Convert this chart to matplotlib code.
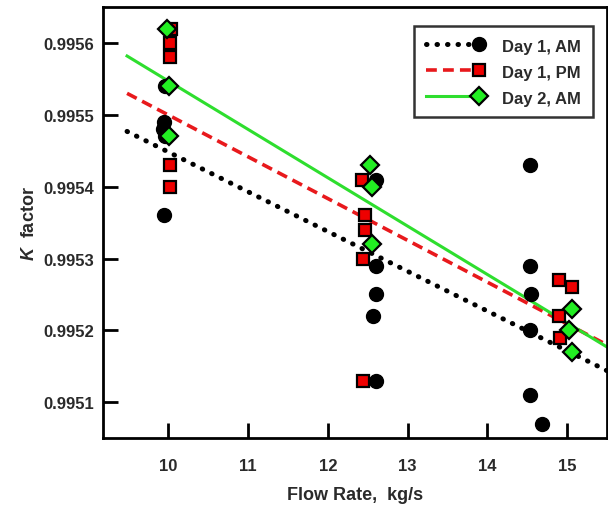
import numpy as np
import matplotlib
matplotlib.use("Agg")
import matplotlib.pyplot as plt
from matplotlib.legend_handler import HandlerLine2DCompound
from matplotlib.lines import Line2D

plt.rcParams['font.family'] = ['Liberation Sans', 'DejaVu Sans']
plt.rcParams['font.weight'] = 'bold'
plt.rcParams['axes.labelweight'] = 'bold'
plt.rcParams['mathtext.fontset'] = 'custom'
plt.rcParams['mathtext.it'] = 'Liberation Sans:italic:bold'
plt.rcParams['mathtext.rm'] = 'Liberation Sans:bold'

# Day 1, AM (black circles)
am1_x = [9.95, 9.94, 9.93, 9.95, 9.94,
         12.61, 12.61, 12.6, 12.57, 12.61,
         14.54, 14.54, 14.55, 14.54, 14.54, 14.69]
am1_y = [0.99554, 0.99549, 0.99548, 0.99547, 0.99536,
         0.99541, 0.99529, 0.99525, 0.99522, 0.99513,
         0.99543, 0.99529, 0.99525, 0.99520, 0.99511, 0.99507]

# Day 1, PM (red squares)
pm1_x = [10.03, 10.02, 10.02, 10.02, 10.02,
         12.43, 12.46, 12.46, 12.44, 12.44,
         14.90, 15.06, 14.90, 14.91]
pm1_y = [0.99562, 0.99560, 0.99558, 0.99543, 0.99540,
         0.99541, 0.99536, 0.99534, 0.99530, 0.99513,
         0.99527, 0.99526, 0.99522, 0.99519]

# Day 2, AM (green diamonds)
am2_x = [9.98, 10.01, 10.01,
         12.53, 12.56, 12.55,
         15.06, 15.03, 15.06]
am2_y = [0.99562, 0.99554, 0.99547,
         0.99543, 0.99540, 0.99532,
         0.99523, 0.99520, 0.99517]

# fitted trend lines (end points)
fit_x = [9.48, 15.5]
fit_am1 = [0.995477, 0.995144]
fit_pm1 = [0.99553, 0.99518]
fit_am2 = [0.995582, 0.995177]

xticks = [10, 11, 12, 13, 14, 15]
yticks = [0.9951, 0.9952, 0.9953, 0.9954, 0.9955, 0.9956]

fig = plt.figure(figsize=(6.08, 5.10), dpi=100)
ax = fig.add_axes([0.169, 0.139, 0.829, 0.845])

txtcol = '#2a2a2a'

dot_ls = (0, (0.1, 2.0))
dash_ls = (0, (3.0, 1.7))

ax.plot(fit_x, fit_am1, color='black', lw=3.6, linestyle=dot_ls,
        dash_capstyle='round', zorder=2)
ax.plot(fit_x, fit_pm1, color='#e8191c', lw=2.6, linestyle=dash_ls, zorder=2)
ax.plot(fit_x, fit_am2, color='#2ede2e', lw=2.2, linestyle='-', zorder=2)

ax.plot(am1_x, am1_y, 'o', color='black', ms=10, zorder=3, linestyle='none')
ax.plot(pm1_x, pm1_y, 's', mfc='#ee0000', mec='black', mew=1.6, ms=9, zorder=4, linestyle='none')
ax.plot(am2_x, am2_y, 'D', mfc='#22ee22', mec='black', mew=1.6, ms=9, zorder=5, linestyle='none')

ax.set_xlim(9.175, 15.5)
ax.set_ylim(0.99505, 0.99565)
ax.set_xticks(xticks)
ax.set_yticks(yticks)
ax.set_xticklabels([str(v) for v in xticks])
ax.set_yticklabels(['%.4f' % v for v in yticks])
ax.tick_params(direction='in', length=11, width=2, labelsize=12, colors='black',
               labelcolor=txtcol, pad=14)
ax.tick_params(axis='y', pad=6)
for s in ax.spines.values():
    s.set_linewidth(2)

ax.set_xlabel('Flow Rate,  kg/s', fontsize=13, color=txtcol, labelpad=10,
              fontweight='bold')
ax.set_ylabel('$K$  factor', fontsize=13, color=txtcol, labelpad=4,
              fontweight='bold')


class EndMarkerHandler(HandlerLine2DCompound):
    def get_xdata(self, legend, xdescent, ydescent, width, height, fontsize):
        xdata = np.array([-xdescent, -xdescent + width])
        xdata_marker = np.array([-xdescent + width])
        return xdata, xdata_marker


h1 = Line2D([], [], color='black', lw=3.6, linestyle=dot_ls,
            dash_capstyle='round', marker='o', ms=10, mfc='black', mec='black')
h2 = Line2D([], [], color='#e8191c', lw=2.6, linestyle=dash_ls,
            marker='s', ms=9, mfc='#ee0000', mec='black', mew=1.6)
h3 = Line2D([], [], color='#2ede2e', lw=2.2, linestyle='-',
            marker='D', ms=9, mfc='#22ee22', mec='black', mew=1.6)

leg = ax.legend([h1, h2, h3], ['Day 1, AM', 'Day 1, PM', 'Day 2, AM'],
                loc='upper right', bbox_to_anchor=(0.982, 0.967),
                handler_map={h1: EndMarkerHandler(), h2: EndMarkerHandler(),
                             h3: EndMarkerHandler()},
                handlelength=3.2, handletextpad=1.4, labelspacing=0.62,
                fontsize=12, frameon=True, fancybox=False, borderpad=0.7,
                borderaxespad=0.3, handleheight=0.9)
leg.get_frame().set_edgecolor('black')
leg.get_frame().set_linewidth(1.8)
for t in leg.get_texts():
    t.set_color(txtcol)

fig.savefig('out.png', dpi=100)
